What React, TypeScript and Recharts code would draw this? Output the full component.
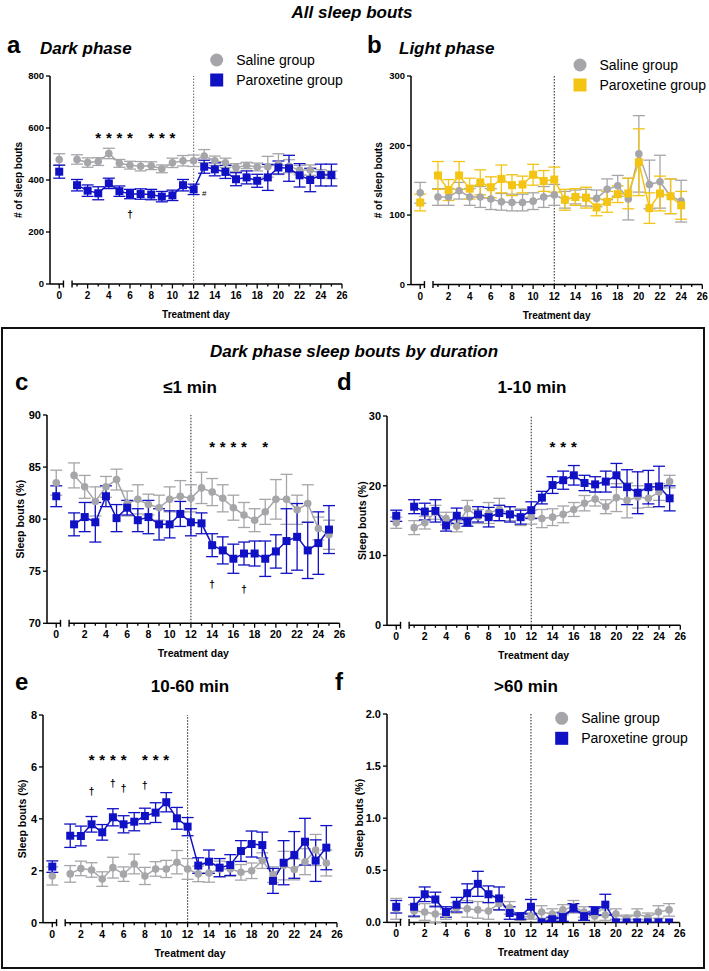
import React from 'react';
import { ComposedChart, Line, ErrorBar, XAxis, YAxis, ReferenceLine, ReferenceDot } from 'recharts';

const FONT = '"Liberation Sans", Arial, sans-serif';
const GREY = '#a6a6aa';
const BLUE = '#1010c4';
const YELLOW = '#f3c414';

// the x axis is broken: day 0 (baseline) sits left of the gap
const X_MIN = -1.55;
const BASE_X = -0.68;
const BREAK_L = -0.28;
const BREAK_R = 0.53;

const darkDays = [0, 1, 2, 3, 4, 5, 6, 7, 8, 9, 10, 11, 12, 13, 14, 15, 16, 17, 18, 19, 20, 21, 22, 23, 24, 25];
const lightDays = [0, 1, 2, 3, 4, 5, 6, 7, 8, 9, 10, 11, 12, 13, 14, 15, 16, 17, 18, 19, 20, 21, 22, 23, 24];
const axisDays = [1, 2, 3, 4, 5, 6, 7, 8, 9, 10, 11, 12, 13, 14, 15, 16, 17, 18, 19, 20, 21, 22, 23, 24, 25, 26];

// a - dark phase, all bouts
const darkSaline = [479, 479, 467, 471, 502, 464, 457, 453, 455, 443, 466, 474, 474, 492, 474, 466, 448, 456, 450, 451, 461, 453, 438, 438, 425, 420];
const darkSalineErr = [22, 18, 18, 15, 20, 15, 15, 18, 15, 15, 18, 20, 22, 25, 18, 18, 15, 12, 15, 40, 40, 25, 18, 20, 15, 15];
const darkParox = [432, 380, 359, 349, 387, 357, 346, 346, 344, 336, 341, 380, 364, 451, 441, 431, 403, 410, 397, 410, 448, 445, 418, 400, 419, 419];
const darkParoxErr = [25, 22, 22, 25, 20, 20, 18, 20, 20, 20, 20, 22, 20, 25, 25, 25, 25, 25, 25, 50, 25, 50, 45, 45, 42, 42];

// b - light phase, all bouts
const lightSaline = [132, 126, 126, 135, 126, 126, 123, 119, 118, 118, 120, 126, 129, 122, 126, 125, 124, 137, 142, 123, 188, 144, 148, 127, 120];
const lightSalineErr = [15, 12, 12, 12, 12, 15, 15, 12, 12, 12, 12, 15, 15, 12, 10, 12, 12, 15, 15, 30, 55, 35, 38, 25, 30];
const lightParox = [118, 157, 136, 157, 138, 147, 140, 152, 143, 144, 158, 149, 151, 122, 126, 125, 111, 119, 130, 131, 176, 110, 131, 127, 114];
const lightParoxErr = [12, 20, 15, 20, 15, 18, 15, 20, 15, 12, 15, 15, 18, 15, 12, 15, 12, 15, 12, 22, 48, 22, 25, 25, 20];

// c - <=1 min
const shortSaline = [83.5, 84.2, 83.1, 81.7, 83.1, 83.8, 81.5, 81.9, 81.4, 81.1, 81.9, 82.2, 82.0, 83.0, 82.6, 82.0, 81.1, 80.4, 79.9, 80.7, 81.9, 81.9, 80.9, 81.5, 79.1, 78.5];
const shortSalineErr = [1.2, 1.2, 1.1, 1.4, 1.0, 1.0, 1.2, 1.4, 1.0, 1.2, 1.2, 1.5, 1.3, 1.5, 1.3, 1.3, 1.2, 1.2, 1.1, 1.2, 1.9, 2.4, 1.4, 1.8, 1.1, 1.4];
const shortParox = [82.2, 79.5, 80.2, 79.7, 82.2, 80.1, 81.1, 79.9, 80.2, 79.5, 79.5, 80.5, 79.7, 79.6, 77.5, 77.0, 76.2, 76.7, 76.7, 76.2, 76.9, 77.9, 78.3, 77.0, 77.7, 79.0];
const shortParoxErr = [1.0, 1.1, 1.4, 1.9, 1.0, 1.3, 0.7, 1.1, 1.6, 1.5, 1.3, 1.2, 1.3, 1.0, 1.1, 1.3, 1.4, 1.1, 1.2, 1.7, 1.6, 3.1, 3.2, 2.7, 3.0, 2.3];

// d - 1-10 min
const midSaline = [14.7, 14.0, 14.7, 16.2, 15.3, 14.2, 16.7, 15.6, 16.1, 16.6, 16.0, 15.5, 15.5, 15.3, 15.5, 15.9, 16.6, 17.5, 18.1, 17.0, 18.3, 17.9, 18.4, 18.2, 19.1, 20.6];
const midSalineErr = [0.8, 1.0, 0.9, 1.0, 0.9, 0.8, 1.2, 1.0, 1.5, 1.6, 1.0, 1.2, 1.0, 1.3, 1.2, 1.2, 1.0, 1.1, 1.0, 1.0, 2.0, 2.5, 1.6, 1.3, 1.2, 0.9];
const midParox = [15.7, 17.0, 16.3, 16.4, 14.3, 15.7, 14.8, 15.9, 15.5, 16.1, 15.9, 15.5, 16.5, 18.3, 20.1, 20.8, 21.5, 20.4, 20.2, 20.6, 21.5, 19.8, 19.0, 19.8, 19.9, 18.2];
const midParoxErr = [0.8, 1.0, 1.2, 1.6, 0.8, 1.1, 0.6, 1.1, 1.4, 1.1, 1.1, 1.0, 1.2, 0.9, 1.2, 1.3, 1.4, 1.1, 1.1, 1.5, 1.7, 2.5, 3.0, 2.4, 2.9, 1.8];

// e - 10-60 min
const longSaline = [1.80, 1.88, 2.09, 2.03, 1.68, 2.12, 1.87, 2.26, 1.80, 2.07, 2.07, 2.33, 2.07, 1.88, 1.91, 2.07, 2.07, 1.94, 2.00, 2.39, 1.85, 2.20, 2.05, 2.35, 2.80, 2.30];
const longSalineErr = [0.35, 0.32, 0.28, 0.28, 0.28, 0.4, 0.28, 0.38, 0.33, 0.28, 0.33, 0.45, 0.4, 0.3, 0.35, 0.3, 0.28, 0.3, 0.3, 0.3, 0.3, 0.55, 0.4, 0.5, 0.6, 0.5];
const longParox = [2.16, 3.35, 3.34, 3.79, 3.48, 4.06, 3.79, 3.89, 4.11, 4.24, 4.64, 4.02, 3.70, 2.20, 2.35, 2.12, 2.22, 2.76, 3.03, 2.99, 1.61, 2.31, 2.61, 3.12, 2.39, 2.89];
const longParoxErr = [0.22, 0.45, 0.38, 0.3, 0.3, 0.33, 0.33, 0.35, 0.3, 0.38, 0.37, 0.42, 0.35, 0.3, 0.45, 0.35, 0.4, 0.4, 0.5, 0.5, 0.48, 0.85, 0.9, 0.9, 0.8, 0.85];

// f - >60 min
const vlongSaline = [0.13, 0.11, 0.10, 0.08, 0.08, 0.14, 0.13, 0.12, 0.11, 0.18, 0.14, 0.05, 0.06, 0.10, 0.08, 0.12, 0.15, 0.10, 0.06, 0.07, 0.08, 0.04, 0.08, 0.05, 0.10, 0.12];
const vlongSalineErr = [0.1, 0.06, 0.08, 0.08, 0.05, 0.05, 0.08, 0.08, 0.08, 0.06, 0.06, 0.03, 0.03, 0.06, 0.05, 0.05, 0.06, 0.05, 0.05, 0.05, 0.05, 0.03, 0.05, 0.04, 0.06, 0.06];
const vlongParox = [0.15, 0.15, 0.27, 0.22, 0.10, 0.17, 0.28, 0.37, 0.27, 0.23, 0.09, 0.06, 0.15, 0.0, 0.03, 0.05, 0.14, 0.06, 0.11, 0.17, 0, 0, 0, 0, 0, 0];
const vlongParoxErr = [0.06, 0.09, 0.07, 0.07, 0.05, 0.07, 0.09, 0.12, 0.08, 0.11, 0.06, 0.03, 0.07, 0, 0.02, 0.04, 0.04, 0.04, 0.04, 0.1, 0, 0, 0, 0, 0, 0];

// significance marks (* vs saline, † / # other comparisons)
const aStarDays = [3, 4, 5, 6, 8, 9, 10];
const aStarLevel = [575, 575, 575, 575, 575, 575, 575];
const aDaggerDays = [6];
const aDaggerLevel = [266];
const aHashDays = [13];
const aHashLevel = [351];
const cStarDays = [14, 15, 16, 17, 19];
const cStarLevel = [87.3, 87.3, 87.3, 87.3, 87.3];
const cDaggerDays = [14, 17];
const cDaggerLevel = [73.7, 73.2];
const dStarDays = [14, 15, 16];
const dStarLevel = [26.1, 26.1, 26.1];
const eStarDays = [3, 4, 5, 6, 8, 9, 10];
const eStarLevel = [6.42, 6.42, 6.42, 6.42, 6.42, 6.42, 6.42];
const eDaggerDays = [3, 5, 6, 8];
const eDaggerLevel = [5.04, 5.33, 5.15, 5.28];

const rows = (days: number[], vals: number[], errs: number[]) =>
    days.map((d, i) => ({ x: d === 0 ? BASE_X : d, y: vals[i], se: errs[i] }));

const marks = (ch: string, days: number[], levels: number[]) => days.map((d, i) => ({ ch, x: d, y: levels[i] }));

const DayTick = (props: any) => {
    const { x, y, payload, fontSize } = props;
    const v = payload.value;
    if (v === BREAK_L || v === BREAK_R) {
        return <line x1={x} x2={x} y1={y - 3.5} y2={y + 3.5} stroke="#000" strokeWidth={1.4} />;
    }
    const major = v === BASE_X || v % 2 === 0;
    return (
        <g>
            <line x1={x} x2={x} y1={y} y2={y + (major ? 4.5 : 2.5)} stroke="#000" strokeWidth={1.3} />
            {major && (
                <text x={x} y={y + 15} textAnchor="middle" fontSize={fontSize} fontWeight="bold" fontFamily={FONT} fill="#000">
                    {v === BASE_X ? '0' : v}
                </text>
            )}
        </g>
    );
};

// how each annotation glyph is drawn around its anchor point
const GLYPH: Record<string, { size: number; weight: string; dy: number }> = {
    '*': { size: 15, weight: 'bold', dy: 8.5 },
    '†': { size: 10, weight: 'bold', dy: 3 },
    '#': { size: 8, weight: 'normal', dy: 3 },
};

interface PanelProps {
    plot: { x: number; y: number; w: number; h: number };
    yDomain: [number, number];
    yTicks: number[];
    yFmt?: (v: number) => string;
    yLabel: string;
    labelX: number;
    days: number[];
    saline: number[];
    salineErr: number[];
    drug: number[];
    drugErr: number[];
    drugColor: string;
    yTickSize: number;
    xTickSize: number;
    yLabelSize: number;
    refStroke: string;
    notes?: { ch: string; x: number; y: number }[];
}

const Panel: React.FC<PanelProps> = (p) => {
    const yAxisW = 40;
    const top = 8;
    const right = 8;
    const bottom = 5;
    const xAxisH = 34;
    const sal = rows(p.days, p.saline, p.salineErr);
    const drg = rows(p.days, p.drug, p.drugErr);
    const y0 = p.yDomain[0];
    const circle = (c: string) => (d: any) => <circle key={d.index} cx={d.cx} cy={d.cy} r={3.8} fill={c} />;
    const square = (c: string) => (d: any) => <rect key={d.index} x={d.cx - 4} y={d.cy - 4} width={8} height={8} fill={c} />;
    const series = (data: any[], color: string, dot: any, key: string) => [
        <Line key={key + 'b'} data={data.filter(r => r.x < 0)} dataKey="y" stroke={color} strokeWidth={1.5} dot={dot} isAnimationActive={false}>
            <ErrorBar dataKey="se" width={6} stroke={color} strokeWidth={1.3} direction="y" />
        </Line>,
        <Line key={key + 't'} data={data.filter(r => r.x > 0)} dataKey="y" stroke={color} strokeWidth={1.5} dot={dot} isAnimationActive={false}>
            <ErrorBar dataKey="se" width={6} stroke={color} strokeWidth={1.3} direction="y" />
        </Line>,
    ];
    return (
        <div style={{ position: 'absolute', left: p.plot.x - yAxisW, top: p.plot.y - top }}>
            <ComposedChart
                width={p.plot.w + yAxisW + right}
                height={p.plot.h + top + xAxisH + bottom}
                margin={{ top, right, bottom, left: 0 }}
            >
                <XAxis
                    dataKey="x"
                    type="number"
                    domain={[X_MIN, 26]}
                    allowDataOverflow
                    ticks={[BASE_X, BREAK_L, BREAK_R, ...axisDays]}
                    interval={0}
                    tickSize={0}
                    tickMargin={0}
                    axisLine={false}
                    tickLine={false}
                    tick={<DayTick fontSize={p.xTickSize} />}
                    height={xAxisH}
                    label={{ value: 'Treatment day', position: 'insideBottom', offset: 0, style: { fontSize: p.yLabelSize, fontWeight: 'bold', fontFamily: FONT, fill: '#000' } }}
                />
                <YAxis
                    type="number"
                    domain={p.yDomain}
                    ticks={p.yTicks}
                    allowDataOverflow
                    width={yAxisW}
                    tickSize={4}
                    tickMargin={2}
                    tickFormatter={p.yFmt}
                    axisLine={{ stroke: '#000', strokeWidth: 1.5 }}
                    tickLine={{ stroke: '#000', strokeWidth: 1.3 }}
                    tick={{ fontSize: p.yTickSize, fontWeight: 'bold', fontFamily: FONT, fill: '#000' }}
                    label={{
                        value: p.yLabel,
                        angle: -90,
                        position: 'insideLeft',
                        offset: p.labelX - (p.plot.x - yAxisW),
                        style: { textAnchor: 'middle', fontSize: p.yLabelSize, fontWeight: 'bold', fontFamily: FONT, fill: '#000' },
                    }}
                />
                <ReferenceLine segment={[{ x: X_MIN, y: y0 }, { x: BREAK_L, y: y0 }]} stroke="#000" strokeWidth={1.5} />
                <ReferenceLine segment={[{ x: BREAK_R, y: y0 }, { x: 26, y: y0 }]} stroke="#000" strokeWidth={1.5} />
                <ReferenceLine x={12} stroke={p.refStroke} strokeWidth={1.1} strokeDasharray="1.5 1.5" />
                {series(sal, GREY, circle(GREY), 's')}
                {series(drg, p.drugColor, square(p.drugColor), 'd')}
                {(p.notes || []).map((n, i) => {
                    const g = GLYPH[n.ch];
                    return (
                        <ReferenceDot
                            key={'n' + i}
                            x={n.x}
                            y={n.y}
                            r={1}
                            shape={(s: any) => (
                                <text x={s.cx} y={s.cy + g.dy} textAnchor="middle" fontSize={g.size} fontWeight={g.weight} fontFamily={FONT} style={{ fill: '#000' }}>
                                    {n.ch}
                                </text>
                            )}
                        />
                    );
                })}
            </ComposedChart>
        </div>
    );
};

const LegendBox = ({ x, y, color }: { x: number; y: number; color: string }) => (
    <g fontFamily={FONT} fontSize={14} fill="#000">
        <circle cx={x} cy={y} r={6.5} fill={GREY} />
        <text x={x + 19.5} y={y + 5}>Saline group</text>
        <rect x={x - 6.5} y={y + 13.5} width={13} height={13} fill={color} />
        <text x={x + 19.5} y={y + 25}>Paroxetine group</text>
    </g>
);

export default function App() {
    const pctLabel = 'Sleep bouts (%)';
    return (
        <div style={{ position: 'absolute', left: 0, top: 0, width: 709, height: 971, background: '#fff', fontFamily: FONT }}>
            <svg width={709} height={971} style={{ position: 'absolute', left: 0, top: 0 }}>
                <g fontFamily={FONT} fill="#000">
                    <text x={352} y={18} textAnchor="middle" fontSize={17} fontWeight="bold" fontStyle="italic">All sleep bouts</text>
                    <text x={7} y={53} fontSize={24} fontWeight="bold">a</text>
                    <text x={40} y={54} fontSize={17} fontWeight="bold" fontStyle="italic">Dark phase</text>
                    <text x={367} y={53} fontSize={24} fontWeight="bold">b</text>
                    <text x={399} y={54} fontSize={17} fontWeight="bold" fontStyle="italic">Light phase</text>
                    <rect x={2} y={328} width={702} height={640} fill="none" stroke="#111" strokeWidth={2} />
                    <text x={354} y={357} textAnchor="middle" fontSize={17} fontWeight="bold" fontStyle="italic">Dark phase sleep bouts by duration</text>
                    <text x={15} y={390} fontSize={24} fontWeight="bold">c</text>
                    <text x={190} y={393} textAnchor="middle" fontSize={17} fontWeight="bold">≤1 min</text>
                    <text x={337} y={390} fontSize={24} fontWeight="bold">d</text>
                    <text x={532} y={393} textAnchor="middle" fontSize={17} fontWeight="bold">1-10 min</text>
                    <text x={15} y={690} fontSize={24} fontWeight="bold">e</text>
                    <text x={190} y={692} textAnchor="middle" fontSize={17} fontWeight="bold">10-60 min</text>
                    <text x={335} y={690} fontSize={24} fontWeight="bold">f</text>
                    <text x={526} y={692} textAnchor="middle" fontSize={17} fontWeight="bold">&gt;60 min</text>
                </g>
                <LegendBox x={216.7} y={60} color={BLUE} />
                <LegendBox x={580} y={65} color={YELLOW} />
                <LegendBox x={561.7} y={718.3} color={BLUE} />
            </svg>

            <Panel
                plot={{ x: 50, y: 76, w: 292, h: 208 }}
                yDomain={[0, 800]} yTicks={[0, 200, 400, 600, 800]}
                yLabel="# of sleep bouts" labelX={18}
                days={darkDays} saline={darkSaline} salineErr={darkSalineErr}
                drug={darkParox} drugErr={darkParoxErr} drugColor={BLUE}
                yTickSize={9.5} xTickSize={10} yLabelSize={10} refStroke="#777"
                notes={[...marks('*', aStarDays, aStarLevel), ...marks('†', aDaggerDays, aDaggerLevel), ...marks('#', aHashDays, aHashLevel)]}
            />
            <Panel
                plot={{ x: 410.7, y: 76, w: 291.3, h: 208.6 }}
                yDomain={[0, 300]} yTicks={[0, 100, 200, 300]}
                yLabel="# of sleep bouts" labelX={378}
                days={lightDays} saline={lightSaline} salineErr={lightSalineErr}
                drug={lightParox} drugErr={lightParoxErr} drugColor={YELLOW}
                yTickSize={9.5} xTickSize={10} yLabelSize={10} refStroke="#333"
            />
            <Panel
                plot={{ x: 46.7, y: 415, w: 292.6, h: 208.3 }}
                yDomain={[70, 90]} yTicks={[70, 75, 80, 85, 90]}
                yLabel={pctLabel} labelX={20}
                days={darkDays} saline={shortSaline} salineErr={shortSalineErr}
                drug={shortParox} drugErr={shortParoxErr} drugColor={BLUE}
                yTickSize={11} xTickSize={10.5} yLabelSize={10.5} refStroke="#333"
                notes={[...marks('*', cStarDays, cStarLevel), ...marks('†', cDaggerDays, cDaggerLevel)]}
            />
            <Panel
                plot={{ x: 386.7, y: 415.7, w: 293.3, h: 209.3 }}
                yDomain={[0, 30]} yTicks={[0, 10, 20, 30]}
                yLabel={pctLabel} labelX={361.7}
                days={darkDays} saline={midSaline} salineErr={midSalineErr}
                drug={midParox} drugErr={midParoxErr} drugColor={BLUE}
                yTickSize={11} xTickSize={10.5} yLabelSize={10.5} refStroke="#333"
                notes={marks('*', dStarDays, dStarLevel)}
            />
            <Panel
                plot={{ x: 43.3, y: 715, w: 294, h: 207.7 }}
                yDomain={[0, 8]} yTicks={[0, 2, 4, 6, 8]}
                yLabel={pctLabel} labelX={23}
                days={darkDays} saline={longSaline} salineErr={longSalineErr}
                drug={longParox} drugErr={longParoxErr} drugColor={BLUE}
                yTickSize={11} xTickSize={10.5} yLabelSize={10.5} refStroke="#333"
                notes={[...marks('*', eStarDays, eStarLevel), ...marks('†', eDaggerDays, eDaggerLevel)]}
            />
            <Panel
                plot={{ x: 387.3, y: 714.3, w: 292.7, h: 208.4 }}
                yDomain={[0, 2]} yTicks={[0, 0.5, 1, 1.5, 2]} yFmt={(v: number) => v.toFixed(1)}
                yLabel={pctLabel} labelX={360}
                days={darkDays} saline={vlongSaline} salineErr={vlongSalineErr}
                drug={vlongParox} drugErr={vlongParoxErr} drugColor={BLUE}
                yTickSize={11} xTickSize={10.5} yLabelSize={10.5} refStroke="#333"
            />
        </div>
    );
}
